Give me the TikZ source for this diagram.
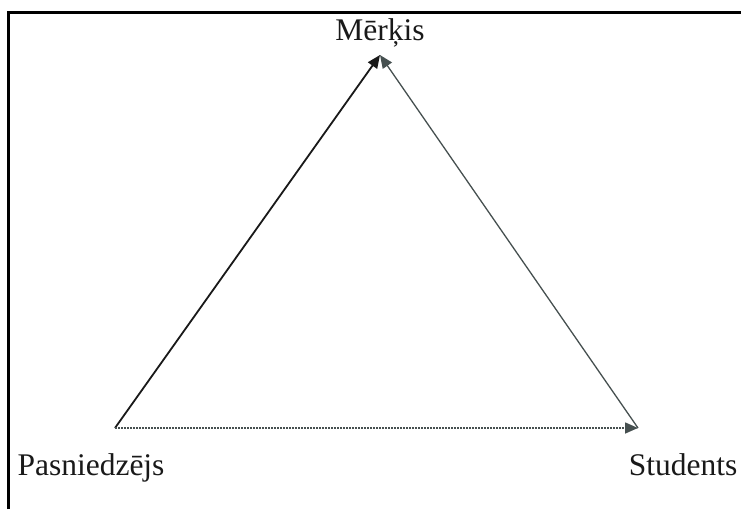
\documentclass[tikz,border=0pt]{standalone}
\usepackage{fontspec}
\setmainfont{Liberation Serif}
\usetikzlibrary{arrows.meta}
\definecolor{ink}{RGB}{25,25,25}
\definecolor{greyline}{RGB}{70,80,80}

\begin{document}
\begin{tikzpicture}[x=1pt,y=-1pt,font=\fontsize{31.5}{36}\selectfont,
 lbl/.style={inner sep=0pt,text=ink,anchor=base},
 edge/.style={-{Triangle[length=13pt,width=11pt]},line width=1.8pt,draw=ink}]
 \useasboundingbox (0,0) rectangle (741,509);
 \draw[line width=3pt] (8,509) -- (8,12) -- (741,12);
 \coordinate (top) at (380,55);
 \coordinate (lft) at (115,428);
 \coordinate (rgt) at (638,428);
 \node[lbl](merkis) at (380,40){Mērķis};
 \node[lbl](pasn) at (91,475){Pasniedzējs};
 \node[lbl](stud) at (683,475){Students};
 \draw[edge](lft)--(top);
 \draw[edge,line width=1.3pt,draw=greyline](rgt)--(top);
 \draw[edge,line width=1.6pt,draw=greyline,dash pattern=on 2pt off 1pt](lft)--(rgt);
\end{tikzpicture}
\end{document}
